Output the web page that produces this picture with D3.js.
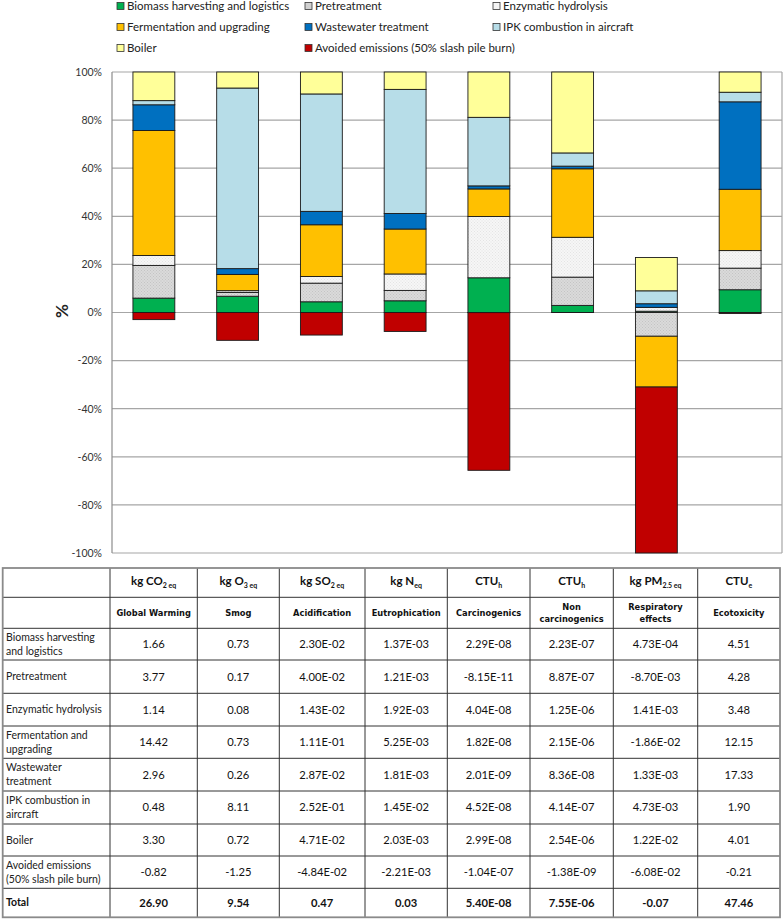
<!DOCTYPE html>
<html>
<head>
<meta charset="utf-8">
<script src="https://cdn.jsdelivr.net/npm/d3@7/dist/d3.min.js"></script>
<style>
  html, body { margin: 0; padding: 0; background: #fff; }
  svg { display: block; }
</style>
</head>
<body>
<svg id="chart" width="784" height="920"></svg>
<script>
// ---------------- DATA ----------------
const categories = ["Global Warming", "Smog", "Acidification", "Eutrophication",
  "Carcinogenics", "Non carcinogenics", "Respiratory effects", "Ecotoxicity"];
const headerNames = [["Global Warming"], ["Smog"], ["Acidification"], ["Eutrophication"],
  ["Carcinogenics"], ["Non", "carcinogenics"], ["Respiratory", "effects"], ["Ecotoxicity"]];
const unitMain = ["kg CO", "kg O", "kg SO", "kg N", "CTU", "CTU", "kg PM", "CTU"];
const unitSub  = ["2 eq", "3 eq", "2 eq", "eq", "h", "h", "2.5 eq", "e"];

const stages = ["Biomass harvesting and logistics", "Pretreatment", "Enzymatic hydrolysis",
  "Fermentation and upgrading", "Wastewater treatment", "IPK combustion in aircraft",
  "Boiler", "Avoided emissions (50% slash pile burn)"];
const stageRowLabels = [["Biomass harvesting", "and logistics"], ["Pretreatment"], ["Enzymatic hydrolysis"],
  ["Fermentation and", "upgrading"], ["Wastewater", "treatment"], ["IPK combustion in", "aircraft"],
  ["Boiler"], ["Avoided emissions", "(50% slash pile burn)"]];

const biomass      = ["1.66", "0.73", "2.30E-02", "1.37E-03", "2.29E-08", "2.23E-07", "4.73E-04", "4.51"];
const pretreatment = ["3.77", "0.17", "4.00E-02", "1.21E-03", "-8.15E-11", "8.87E-07", "-8.70E-03", "4.28"];
const enzymatic    = ["1.14", "0.08", "1.43E-02", "1.92E-03", "4.04E-08", "1.25E-06", "1.41E-03", "3.48"];
const fermentation = ["14.42", "0.73", "1.11E-01", "5.25E-03", "1.82E-08", "2.15E-06", "-1.86E-02", "12.15"];
const wastewater   = ["2.96", "0.26", "2.87E-02", "1.81E-03", "2.01E-09", "8.36E-08", "1.33E-03", "17.33"];
const ipk          = ["0.48", "8.11", "2.52E-01", "1.45E-02", "4.52E-08", "4.14E-07", "4.73E-03", "1.90"];
const boiler       = ["3.30", "0.72", "4.71E-02", "2.03E-03", "2.99E-08", "2.54E-06", "1.22E-02", "4.01"];
const avoided      = ["-0.82", "-1.25", "-4.84E-02", "-2.21E-03", "-1.04E-07", "-1.38E-09", "-6.08E-02", "-0.21"];
const totals       = ["26.90", "9.54", "0.47", "0.03", "5.40E-08", "7.55E-06", "-0.07", "47.46"];

const stageValues = [biomass, pretreatment, enzymatic, fermentation, wastewater, ipk, boiler, avoided];
const yTicks = [-100, -80, -60, -40, -20, 0, 20, 40, 60, 80, 100];

// ---------------- STYLE / LAYOUT ----------------
const colors = ["#00b050", "url(#patPre)", "url(#patEnz)", "#ffc000", "#0070c0", "#b7dde8", "#ffff99", "#c00000"];
const legendColors = ["#00b050", "#d0d0d0", "#f4f4f4", "#ffc000", "#0070c0", "#b7dde8", "#ffff99", "#c00000"];
const plot = { left: 112, right: 782, top: 72, bottom: 553 };
const colEdges = [2.7, 110, 197.3, 279.3, 365, 447.3, 530, 613.3, 697.7, 780];
const rowEdges = [568, 597.3, 628.3, 660, 693.3, 726, 758.3, 791, 824, 856, 888.3, 917.3];
const fontMain = "Lato, 'Open Sans', sans-serif";

const svg = d3.select("#chart");
const defs = svg.append("defs");
function dotPattern(id, bg, fg) {
  const p = defs.append("pattern").attr("id", id).attr("width", 3).attr("height", 3)
    .attr("patternUnits", "userSpaceOnUse");
  p.append("rect").attr("width", 3).attr("height", 3).attr("fill", bg);
  p.append("rect").attr("x", 0).attr("y", 0).attr("width", 1).attr("height", 1).attr("fill", fg);
  p.append("rect").attr("x", 1.5).attr("y", 1.5).attr("width", 1).attr("height", 1).attr("fill", fg);
}
dotPattern("patPre", "#dadada", "#c4c4c4");
dotPattern("patEnz", "#f6f6f6", "#e4e4e4");

// ---------------- COMPUTE STACKS ----------------
const segs = [];
categories.forEach((c, j) => {
  const vals = stageValues.map(a => +a[j]);
  const pos = d3.sum(vals.filter(v => v > 0));
  const neg = -d3.sum(vals.filter(v => v < 0));
  const denom = Math.max(pos, neg);
  let up = 0, down = 0;
  vals.forEach((v, i) => {
    const p = v / denom * 100;
    if (p >= 0) { segs.push({ c, i, y0: up, y1: up + p }); up += p; }
    else { segs.push({ c, i, y0: down + p, y1: down }); down += p; }
  });
});

// ---------------- SCALES ----------------
const x = d3.scaleBand().domain(categories).range([plot.left, plot.right])
  .paddingInner(0.5).paddingOuter(0.25);
const y = d3.scaleLinear().domain([-100, 100]).range([plot.bottom, plot.top]);

// gridlines
svg.append("g").selectAll("line").data(yTicks).join("line")
  .attr("x1", plot.left).attr("x2", plot.right)
  .attr("y1", d => y(d)).attr("y2", d => y(d))
  .attr("stroke", "#a6a6a6").attr("stroke-width", 1.2);
// left axis line and right border
svg.append("line").attr("x1", plot.left).attr("x2", plot.left).attr("y1", plot.top).attr("y2", plot.bottom)
  .attr("stroke", "#8c8c8c").attr("stroke-width", 1.2);
svg.append("line").attr("x1", plot.right).attr("x2", plot.right).attr("y1", plot.top).attr("y2", plot.bottom)
  .attr("stroke", "#a6a6a6").attr("stroke-width", 1.2);

// y axis labels
const yAxis = d3.axisLeft(y).tickValues(yTicks).tickSize(0).tickPadding(10)
  .tickFormat(d => d + "%");
const ya = svg.append("g").attr("transform", `translate(${plot.left},0)`).call(yAxis);
ya.select(".domain").remove();
ya.selectAll("text").attr("font-family", fontMain).attr("font-size", 10.5).attr("fill", "#333");

// axis title
svg.append("text").attr("transform", "translate(68,311) rotate(-90)")
  .attr("text-anchor", "middle").attr("font-family", fontMain).attr("font-weight", "bold")
  .attr("font-size", 17).attr("fill", "#222").text("%");

// bars
svg.append("g").selectAll("rect").data(segs).join("rect")
  .attr("x", d => x(d.c)).attr("width", x.bandwidth())
  .attr("y", d => y(d.y1)).attr("height", d => Math.max(0, y(d.y0) - y(d.y1)))
  .attr("fill", d => colors[d.i]).attr("stroke", "#1a1a1a").attr("stroke-width", 0.9);

// legend
const legCols = [117, 305, 493];
const legRows = [6, 27, 48];
const legOrder = [0, 1, 2, 3, 4, 5, 6, 7];
const leg = svg.append("g").selectAll("g").data(legOrder).join("g")
  .attr("transform", (d, k) => `translate(${legCols[k % 3]},${legRows[Math.floor(k / 3)]})`);
leg.append("rect").attr("x", 0).attr("y", -3.5).attr("width", 7).attr("height", 7)
  .attr("fill", d => legendColors[d]).attr("stroke", "#333").attr("stroke-width", 0.8);
leg.append("text").attr("x", 10).attr("y", 0).attr("dy", "0.35em")
  .attr("font-family", fontMain).attr("font-size", 11.5).attr("fill", "#222")
  .text(d => stages[d]);

// ---------------- TABLE ----------------
const tbl = svg.append("g");
const colCenter = k => (colEdges[k] + colEdges[k + 1]) / 2;
const rowCenter = r => (rowEdges[r] + rowEdges[r + 1]) / 2;

// inner lines
tbl.append("g").selectAll("line").data(rowEdges.slice(1, -1)).join("line")
  .attr("x1", colEdges[0]).attr("x2", colEdges[colEdges.length - 1])
  .attr("y1", d => d).attr("y2", d => d).attr("stroke", "#333").attr("stroke-width", 1);
tbl.append("g").selectAll("line").data(colEdges.slice(1, -1)).join("line")
  .attr("x1", d => d).attr("x2", d => d)
  .attr("y1", rowEdges[0]).attr("y2", rowEdges[rowEdges.length - 1]).attr("stroke", "#333").attr("stroke-width", 1);
// outer frame
tbl.append("rect").attr("x", colEdges[0]).attr("y", rowEdges[0])
  .attr("width", colEdges[colEdges.length - 1] - colEdges[0])
  .attr("height", rowEdges[rowEdges.length - 1] - rowEdges[0])
  .attr("fill", "none").attr("stroke", "#8a8a8a").attr("stroke-width", 1.8);

// units row
categories.forEach((c, j) => {
  const t = tbl.append("text").attr("x", colCenter(j + 1)).attr("y", rowCenter(0) + 2)
    .attr("text-anchor", "middle").attr("font-family", fontMain).attr("font-weight", "bold")
    .attr("font-size", 11.5).attr("fill", "#111");
  t.append("tspan").text(unitMain[j]);
  t.append("tspan").attr("dy", 3).attr("font-size", 7).text(unitSub[j]);
});
// names row
headerNames.forEach((lines, j) => {
  const cy = rowCenter(1);
  lines.forEach((ln, li) => {
    tbl.append("text").attr("x", colCenter(j + 1))
      .attr("y", cy + (li - (lines.length - 1) / 2) * 12).attr("dy", "0.35em")
      .attr("text-anchor", "middle").attr("font-family", "'DejaVu Sans', sans-serif")
      .attr("font-weight", "bold").attr("font-size", 8.3).attr("fill", "#111").text(ln);
  });
});
// data rows
stageValues.forEach((arr, i) => {
  const r = i + 2;
  const lines = stageRowLabels[i];
  lines.forEach((ln, li) => {
    tbl.append("text").attr("x", 6).attr("y", rowCenter(r) + (li - (lines.length - 1) / 2) * 14)
      .attr("dy", "0.35em").attr("font-family", fontMain).attr("font-size", 10.5)
      .attr("fill", "#222").text(ln);
  });
  arr.forEach((v, j) => {
    tbl.append("text").attr("x", colCenter(j + 1)).attr("y", rowCenter(r)).attr("dy", "0.35em")
      .attr("text-anchor", "middle").attr("font-family", fontMain).attr("font-size", 11.2)
      .attr("fill", "#111").text(v);
  });
});
// totals row
const tr = rowEdges.length - 2;
tbl.append("text").attr("x", 6).attr("y", rowCenter(tr)).attr("dy", "0.35em")
  .attr("font-family", fontMain).attr("font-weight", "bold").attr("font-size", 10.5)
  .attr("fill", "#111").text("Total");
totals.forEach((v, j) => {
  tbl.append("text").attr("x", colCenter(j + 1)).attr("y", rowCenter(tr)).attr("dy", "0.35em")
    .attr("text-anchor", "middle").attr("font-family", fontMain).attr("font-weight", "bold")
    .attr("font-size", 11.2).attr("fill", "#111").text(v);
});
</script>
</body>
</html>
